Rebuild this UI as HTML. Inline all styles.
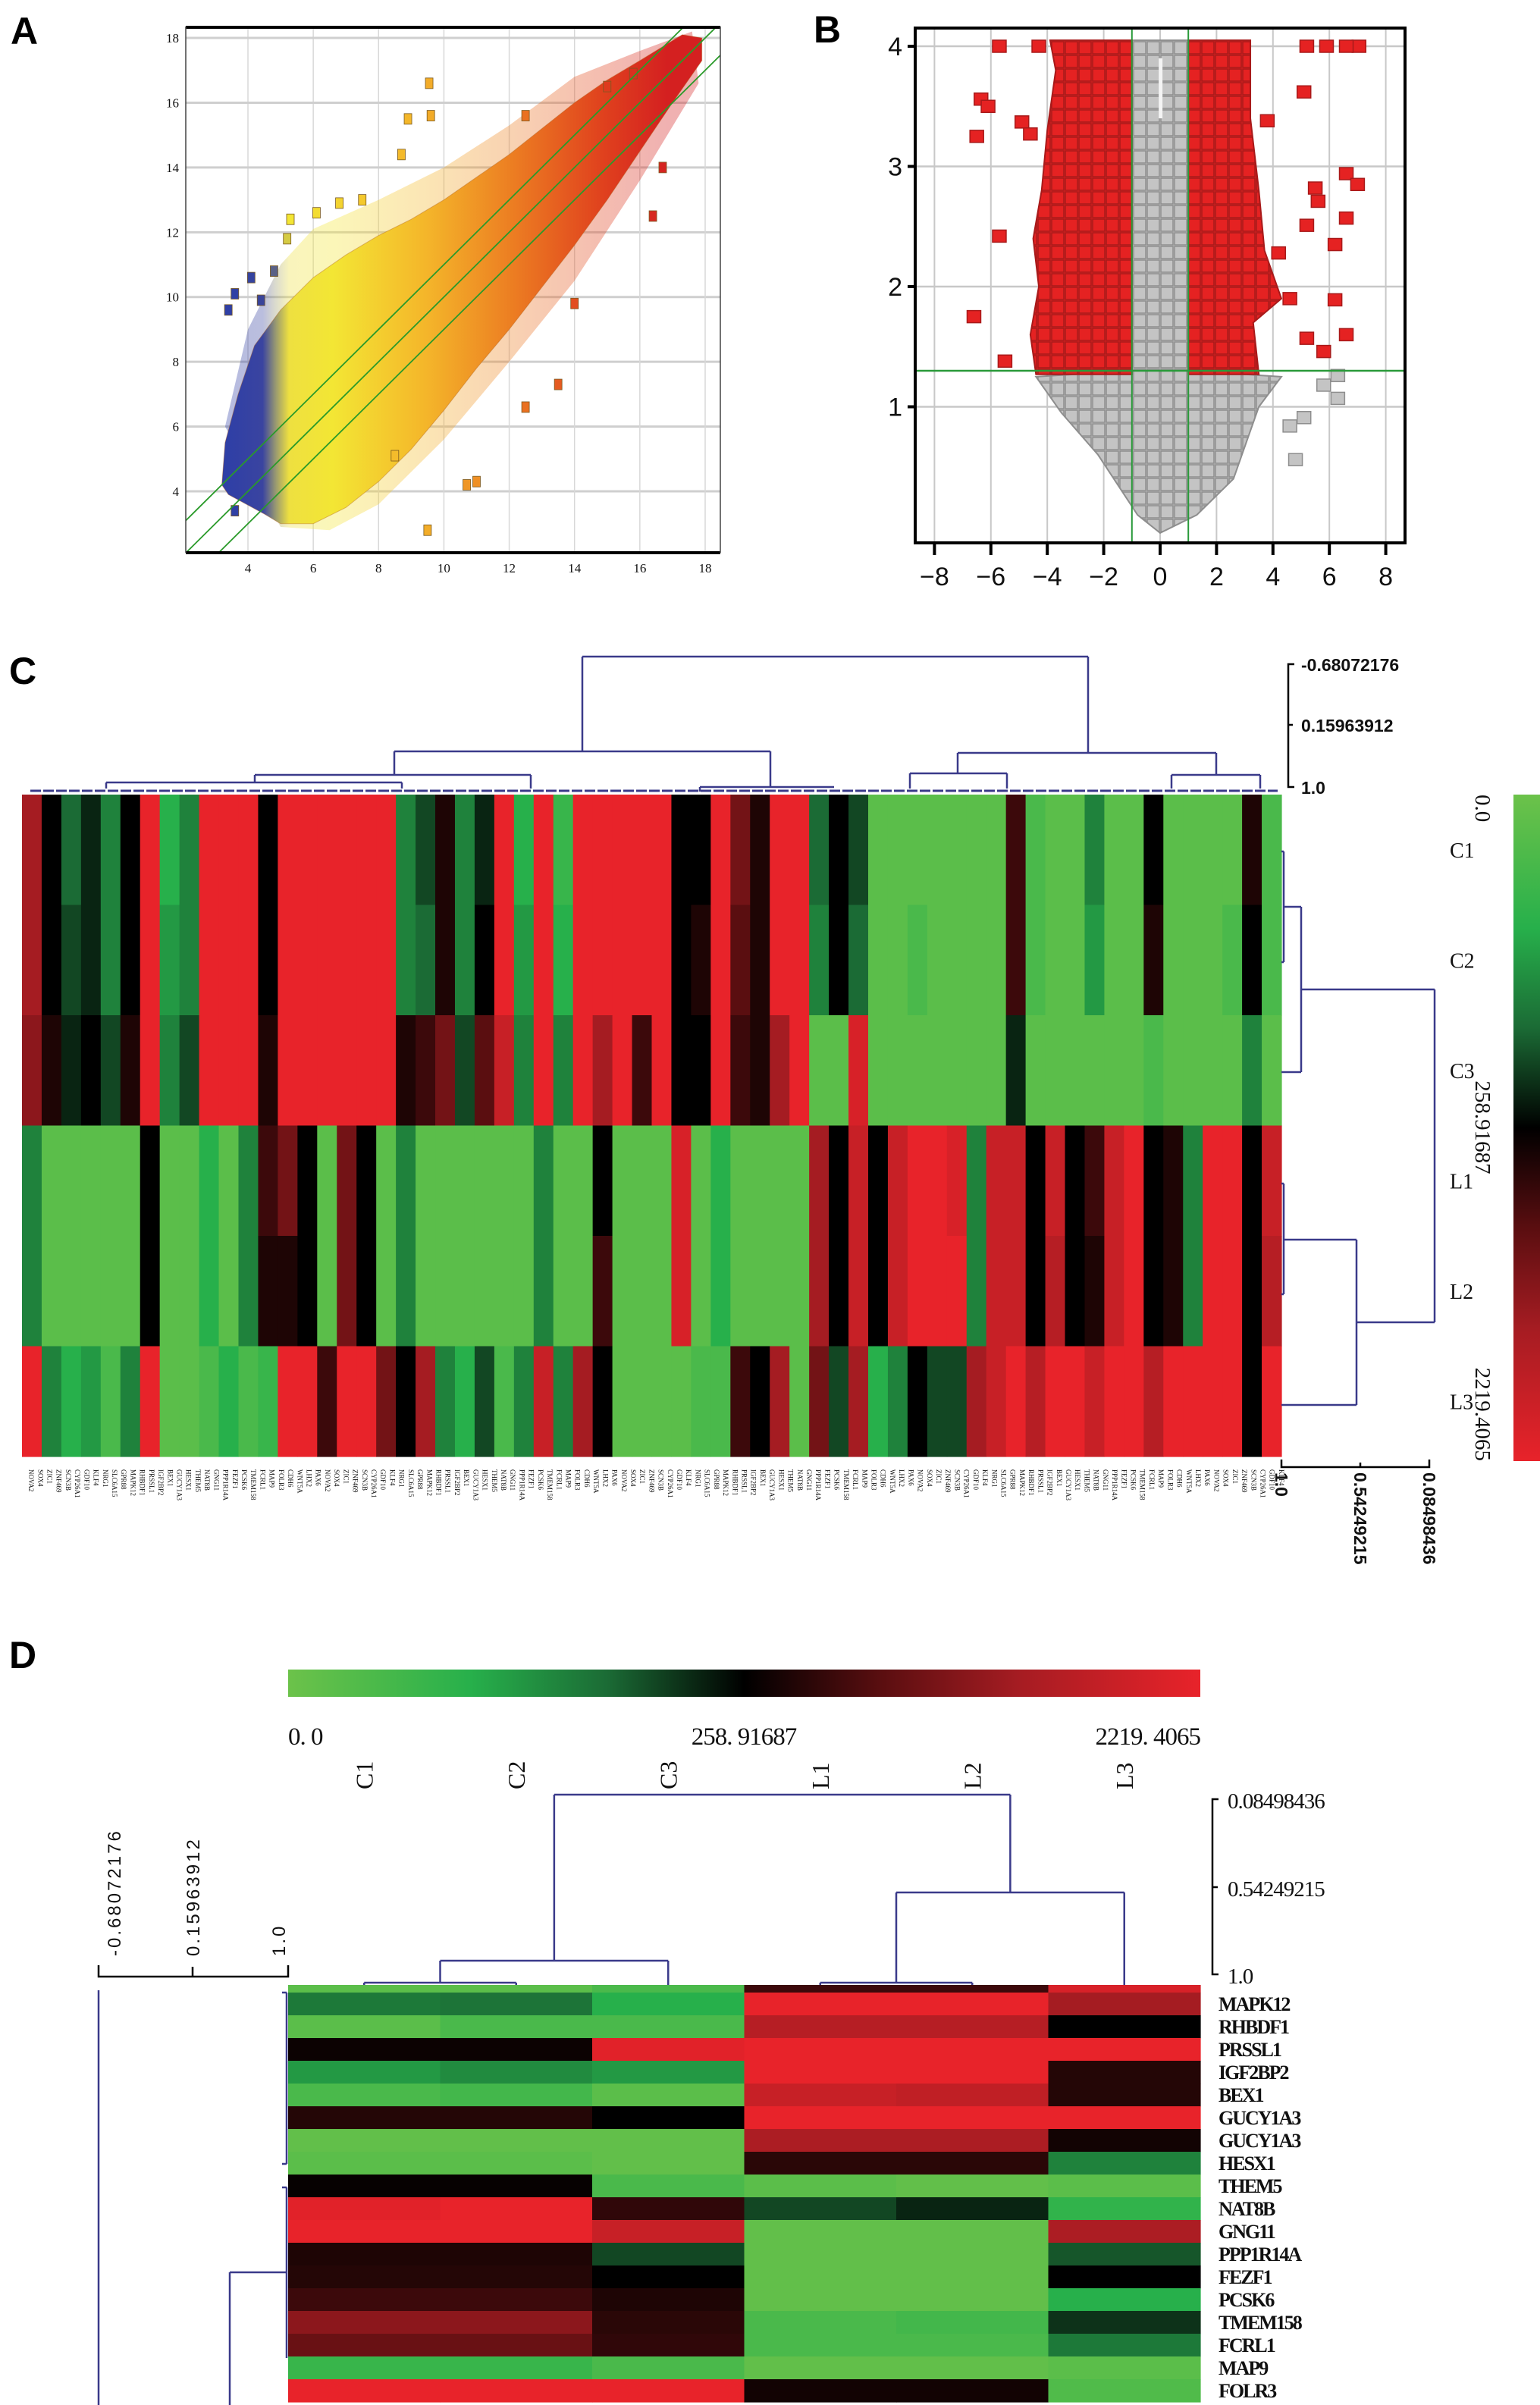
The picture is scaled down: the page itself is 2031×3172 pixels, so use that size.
<!DOCTYPE html>
<html><head><meta charset="utf-8">
<style>
html,body{margin:0;padding:0;background:#fff;}
svg{display:block;}
.lt{font-family:"Liberation Sans",sans-serif;font-weight:bold;fill:#000;}
.sr{font-family:"Liberation Serif","Noto Serif CJK SC",serif;fill:#111;}
.ss{font-family:"Liberation Sans",sans-serif;fill:#111;}
</style></head>
<body>
<svg id="fig" xmlns="http://www.w3.org/2000/svg" width="2031" height="3172" viewBox="0 0 2031 3172">
<defs>
<linearGradient id="gA" gradientUnits="userSpaceOnUse" x1="300" y1="0" x2="880" y2="0">
<stop offset="0" stop-color="#2f3fa6"/><stop offset="0.08" stop-color="#3a44a0"/><stop offset="0.11" stop-color="#9a9a70"/><stop offset="0.14" stop-color="#eee040"/><stop offset="0.24" stop-color="#f3e634"/><stop offset="0.45" stop-color="#f4b62a"/><stop offset="0.65" stop-color="#ec7d22"/><stop offset="0.85" stop-color="#e0421e"/><stop offset="1" stop-color="#d42020"/>
</linearGradient>
<pattern id="pR" width="18" height="18" patternUnits="userSpaceOnUse"><rect width="18" height="18" fill="#e52222"/><rect x="1" y="1" width="16" height="16" fill="none" stroke="#a81a1a" stroke-width="1.5"/></pattern>
<pattern id="pG" width="18" height="18" patternUnits="userSpaceOnUse"><rect width="18" height="18" fill="#c4c4c4"/><rect x="1" y="1" width="16" height="16" fill="none" stroke="#8e8e8e" stroke-width="1.5"/></pattern>
<linearGradient id="cbV" x1="0" y1="0" x2="0" y2="1">
<stop offset="0" stop-color="#6cc24a"/><stop offset="0.2" stop-color="#27b04b"/><stop offset="0.35" stop-color="#1b6b35"/><stop offset="0.5" stop-color="#000"/><stop offset="0.65" stop-color="#5a0e10"/><stop offset="0.8" stop-color="#a51c22"/><stop offset="1" stop-color="#e8232a"/>
</linearGradient>
<linearGradient id="cbH" x1="0" y1="0" x2="1" y2="0">
<stop offset="0" stop-color="#6cc24a"/><stop offset="0.2" stop-color="#27b04b"/><stop offset="0.35" stop-color="#1b6b35"/><stop offset="0.5" stop-color="#000"/><stop offset="0.65" stop-color="#5a0e10"/><stop offset="0.8" stop-color="#a51c22"/><stop offset="1" stop-color="#e8232a"/>
</linearGradient>
<clipPath id="clipA"><rect x="245" y="35" width="705" height="694"/></clipPath>
<clipPath id="clipB"><rect x="1205" y="35" width="650" height="683"/></clipPath>
</defs>
<text class="lt" x="14" y="58" font-size="50">A</text>
<text class="lt" x="1073" y="56" font-size="50">B</text>
<text class="lt" x="12" y="902" font-size="50">C</text>
<text class="lt" x="12" y="2200" font-size="50">D</text>
<g id="panelA"></g>
<g id="panelB"></g>
<g id="panelC"></g>
<g id="panelD"></g>
</svg>
<script>
// ---------- Panel A data ----------
const aTicks = [4,6,8,10,12,14,16,18];
const aCloudUpper = [[3.2,4.2],[3.3,5.5],[3.7,7],[4.2,8.5],[5,9.6],[6,10.6],[7,11.3],[8,11.9],[9,12.4],[10,13],[11,13.7],[12,14.4],[13,15.2],[14,16],[15,16.7],[16,17.3],[17.3,18.1],[17.9,18]];
const aCloudLower = [[17.9,17.3],[17,16],[16,14.5],[15,13],[14,11.6],[13,10.3],[12,9],[11,7.8],[10,6.5],[9,5.3],[8,4.3],[7,3.5],[6,3],[5,3],[4.5,3.3],[3.4,3.9]];
const aHaloUpper = [[3.3,6],[4,9],[5,11],[6,12.1],[8,13],[10,14],[12,15.3],[14,16.8],[16,17.6],[17.6,18.2]];
const aHaloLower = [[17.8,16.6],[16,13.6],[14,10.5],[12,8],[10,5.6],[8,3.6],[6.5,2.8],[5,2.9]];
const aOutX = [9.55,8.9,9.6,8.7,5.3,6.1,6.8,7.5,5.2,4.1,3.6,3.4,4.4,4.8,9.5,10.7,11,13.5,12.5,12.5,14,16.4,16.7,15.8,15,8.5,3.6];
const aOutY = [16.6,15.5,15.6,14.4,12.4,12.6,12.9,13.0,11.8,10.6,10.1,9.6,9.9,10.8,2.8,4.2,4.3,7.3,6.6,15.6,9.8,12.5,14,16.9,16.5,5.1,3.4];
// ---------- Panel B data ----------
const bXTicks = [-8,-6,-4,-2,0,2,4,6,8];
const bYTicks = [1,2,3,4];
const bGrayRegion = [[0,-0.05],[-0.8,0.1],[-2.2,0.6],[-3.5,0.95],[-4.4,1.25],[-1,1.3],[-1,4.05],[1,4.05],[1,1.3],[4.3,1.25],[3.5,1.0],[2.6,0.4],[1.3,0.1]];
const bRedLeft = [[-1,1.27],[-4.4,1.27],[-4.6,1.6],[-4.3,2.0],[-4.5,2.4],[-4.2,2.8],[-4,3.3],[-3.7,3.8],[-3.9,4.05],[-1,4.05]];
const bRedRight = [[1,1.27],[3.5,1.27],[3.3,1.7],[4.3,1.9],[3.7,2.3],[3.5,2.8],[3.2,3.4],[3.2,4.05],[1,4.05]];
const bRedX = [-5.7,-4.3,5.2,5.9,7.05,6.6,-6.35,-6.1,-6.5,-4.9,-4.6,5.1,3.8,6.6,7.0,5.5,5.6,6.6,5.2,-5.7,4.2,6.2,-6.6,6.6,5.2,5.8,-5.5,4.6,6.2];
const bRedY = [4.0,4.0,4.0,4.0,4.0,4.0,3.56,3.5,3.25,3.37,3.27,3.62,3.38,2.94,2.85,2.82,2.71,2.57,2.51,2.42,2.28,1.89,1.75,1.6,1.57,1.46,1.38,1.9,2.35];
const bGrayX = [6.3,6.3,4.6,4.8,5.1,5.8];
const bGrayY = [1.26,1.07,0.84,0.56,0.91,1.18];
// ---------- Panel C data ----------
const cRowLabels = ["C1","C2","C3","L1","L2","L3"];
const cC1 = [.8,.5,.35,.45,.3,.5,1,.2,.3,1,1,1,.5,1,1,1,1,1,1,.3,.4,.55,.3,.45,1,.2,1,.15,1,1,1,1,1,.5,.5,1,.7,.55,1,1,.35,.5,.4,.05,.05,.05,.05,.05,.05,.05,.6,.1,.05,.05,.3,.05,.05,.5,.05,.05,.05,.05,.55,.1];
const cC2 = [.8,.5,.4,.45,.3,.5,1,.25,.3,1,1,1,.5,1,1,1,1,1,1,.3,.35,.55,.3,.5,1,.25,1,.2,1,1,1,1,1,.5,.55,1,.65,.55,1,1,.3,.5,.35,.05,.05,.1,.05,.05,.05,.05,.6,.1,.05,.05,.25,.05,.05,.55,.05,.05,.05,.1,.5,.1];
const cC3 = [.75,.55,.45,.5,.4,.55,1,.3,.4,1,1,1,.55,1,1,1,1,1,1,.55,.6,.7,.4,.65,.9,.3,1,.3,1,.8,1,.6,1,.5,.5,1,.6,.55,.8,1,.05,.05,.95,.05,.05,.05,.05,.05,.05,.05,.45,.05,.05,.05,.05,.05,.05,.1,.05,.05,.05,.05,.3,.05];
const cL1 = [.3,.05,.05,.05,.05,.05,.5,.05,.05,.2,.05,.3,.6,.7,.5,.05,.7,.5,.05,.3,.05,.05,.05,.05,.05,.05,.3,.05,.05,.5,.05,.05,.05,.95,.05,.2,.05,.05,.05,.05,.8,.5,.9,.5,.9,1,1,.95,.3,.9,.9,.5,.9,.5,.6,.9,1,.5,.55,.3,1,1,.5,.9];
const cL2 = [.3,.05,.05,.05,.05,.05,.5,.05,.05,.2,.05,.3,.55,.55,.5,.05,.7,.5,.05,.3,.05,.05,.05,.05,.05,.05,.3,.05,.05,.6,.05,.05,.05,.95,.05,.2,.05,.05,.05,.05,.8,.5,.9,.5,.9,1,1,1,.3,.9,.9,.5,.85,.5,.55,.9,1,.5,.55,.3,1,1,.5,.85];
const cL3 = [1,.3,.2,.25,.1,.3,1,.05,.05,.1,.2,.1,.15,1,1,.6,1,1,.7,.5,.8,.3,.2,.4,.1,.3,.9,.3,.8,.5,.05,.05,.05,.05,.1,.1,.6,.5,.8,.05,.7,.4,.8,.2,.3,.5,.4,.4,.8,.9,1,.85,1,1,.9,1,1,.85,1,1,1,1,.5,1];
const cGeneNames = ["NOVA2","SOX4","ZIC1","ZNF469","SCN3B","CYP26A1","GDF10","KLF4","NRG1","SLC6A15","GPR88","MAPK12","RHBDF1","PRSSL1","IGF2BP2","BEX1","GUCY1A3","HESX1","THEM5","NAT8B","GNG11","PPP1R14A","FEZF1","PCSK6","TMEM158","FCRL1","MAP9","FOLR3","CDH6","WNT5A","LHX2","PAX6"];
const cScaleLabels = ["-0.68072176","0.15963912","1.0"];
const cBottomScaleLabels = ["1.0","0.54249215","0.08498436"];
const cbLabels = ["0.0","258.91687","2219.4065"];
// ---------- Panel D data ----------
const dCols = ["C1","C2","C3","L1","L2","L3"];
const dGenes = ["","MAPK12","RHBDF1","PRSSL1","IGF2BP2","BEX1","GUCY1A3","GUCY1A3","HESX1","THEM5","NAT8B","GNG11","PPP1R14A","FEZF1","PCSK6","TMEM158","FCRL1","MAP9","FOLR3"];
const dC1 = [.05,.32,.05,.52,.25,.1,.56,.03,.05,.51,.98,1,.55,.56,.6,.75,.68,.15,1];
const dC2 = [.05,.33,.1,.52,.28,.12,.56,.03,.05,.51,1,1,.55,.56,.6,.75,.68,.15,1];
const dC3 = [.1,.2,.1,.98,.25,.05,.5,.03,.03,.1,.58,.9,.4,.5,.55,.57,.58,.1,1];
const dL1 = [.6,1,.85,1,1,.9,1,.82,.57,.05,.4,.03,.03,.03,.03,.1,.1,.03,.53];
const dL2 = [.6,1,.85,1,1,.88,1,.82,.57,.03,.45,.03,.03,.03,.03,.12,.1,.03,.53];
const dL3 = [.95,.8,.5,1,.56,.56,1,.53,.3,.05,.17,.82,.38,.5,.2,.43,.32,.05,.08];
const dScaleTop = ["0.08498436","0.54249215","1.0"];
const dScaleLeft = ["-0.68072176","0.15963912","1.0"];

const NS = "http://www.w3.org/2000/svg";
function mk(parent, tag, attrs, txt){
  const e = document.createElementNS(NS, tag);
  for (const k in attrs) e.setAttribute(k, attrs[k]);
  if (txt !== undefined) e.textContent = txt;
  parent.appendChild(e);
  return e;
}
const stops = [[0,[108,194,74]],[0.2,[39,176,75]],[0.35,[27,107,53]],[0.5,[0,0,0]],[0.65,[90,14,16]],[0.8,[165,28,34]],[1,[232,35,42]]];
function cmap(v){
  v = Math.max(0, Math.min(1, v));
  for (let i=1;i<stops.length;i++){
    if (v <= stops[i][0]){
      const a=stops[i-1], b=stops[i], t=(v-a[0])/(b[0]-a[0]);
      const c=a[1].map((x,j)=>Math.round(x+(b[1][j]-x)*t));
      return "rgb("+c.join(",")+")";
    }
  }
  return "rgb(232,35,42)";
}

// ================= Panel A =================
(function(){
  const g = document.getElementById("panelA");
  const ax = v => 327 + (v-4)*43.07;
  const ay = v => 648 - (v-4)*42.71;
  const clip = mk(g,"g",{"clip-path":"url(#clipA)"});
  
  
  aTicks.forEach(t=>{
    const h = mk(clip,"line",{x1:245,x2:950,y1:ay(t),y2:ay(t),stroke:"#cfcfcf","stroke-width":3});
    
    
    const v = mk(clip,"line",{x1:ax(t),x2:ax(t),y1:35,y2:729,stroke:"#d8d8d8","stroke-width":1.5});
    
    
  });
  const hpts = aHaloUpper.concat(aHaloLower).map(p=>ax(p[0])+","+ay(p[1])).join(" ");
  const halo = mk(clip,"polygon",{points:hpts,fill:"url(#gA)","fill-opacity":0.35});
  
  
  const pts = aCloudUpper.concat(aCloudLower).map(p=>ax(p[0])+","+ay(p[1])).join(" ");
  const cloud = mk(clip,"polygon",{points:pts,fill:"url(#gA)",stroke:"#b0601a","stroke-width":1,"stroke-opacity":0.4});
  
  
  const grad = [[3.5,[47,63,166]],[4.7,[60,70,150]],[5.3,[243,230,52]],[9,[244,182,42]],[12,[236,125,34]],[14.5,[224,66,30]],[17,[212,32,32]]];
  function acol(x){
    if (x<=grad[0][0]) return "rgb("+grad[0][1]+")";
    for (let i=1;i<grad.length;i++) if (x<=grad[i][0]){
      const a=grad[i-1],b=grad[i],t=(x-a[0])/(b[0]-a[0]);
      return "rgb("+a[1].map((c,j)=>Math.round(c+(b[1][j]-c)*t)).join(",")+")";
    }
    return "rgb(212,32,32)";
  }
  aOutX.forEach((x,i)=>{
    const r = mk(clip,"rect",{x:ax(x)-5,y:ay(aOutY[i])-7,width:10,height:14,fill:acol(x),stroke:"#7a5a20","stroke-width":0.8});
    
    
  });
  [-1,0,1].forEach(o=>{
    const l = mk(clip,"line",{x1:ax(1),y1:ay(1+o),x2:ax(20),y2:ay(20+o),stroke:"#2a9a2a","stroke-width":1.8});
    
    
  });
  const ft = mk(g,"line",{x1:245,x2:950,y1:36,y2:36,stroke:"#000","stroke-width":4});
   
  const fb = mk(g,"line",{x1:245,x2:950,y1:729,y2:729,stroke:"#000","stroke-width":4});
   
  const fl = mk(g,"line",{x1:245,x2:245,y1:35,y2:729,stroke:"#444","stroke-width":1.5});
   
  const fr = mk(g,"line",{x1:950,x2:950,y1:35,y2:729,stroke:"#444","stroke-width":1.5});
   
  aTicks.forEach(t=>{
    const tx = mk(g,"text",{x:ax(t),y:755,"font-size":17,"text-anchor":"middle",class:"sr",fill:"#444"},String(t));
    
    
    const ty = mk(g,"text",{x:236,y:ay(t)+6,"font-size":17,"text-anchor":"end",class:"sr",fill:"#444"},String(t));
    
    
  });
})();

// ================= Panel B =================
(function(){
  const g = document.getElementById("panelB");
  const bx = v => 1530 + v*37.2;
  const by = v => 695 - v*158.5;
  const clip = mk(g,"g",{"clip-path":"url(#clipB)"});
  
  
  bXTicks.forEach(t=>{
    const l = mk(clip,"line",{x1:bx(t),x2:bx(t),y1:35,y2:718,stroke:"#c8c8c8","stroke-width":2});
    
    
  });
  bYTicks.forEach(t=>{
    const l = mk(clip,"line",{x1:1205,x2:1855,y1:by(t),y2:by(t),stroke:"#c8c8c8","stroke-width":2.5});
    
    
  });
  const poly = arr => arr.map(p=>bx(p[0])+","+by(p[1])).join(" ");
  const gr = mk(clip,"polygon",{points:poly(bGrayRegion),fill:"url(#pG)",stroke:"#8e8e8e","stroke-width":2});
  
  
  const rl = mk(clip,"polygon",{points:poly(bRedLeft),fill:"url(#pR)",stroke:"#a81a1a","stroke-width":2});
  
  
  const rr = mk(clip,"polygon",{points:poly(bRedRight),fill:"url(#pR)",stroke:"#a81a1a","stroke-width":2});
  
  
  const gap = mk(clip,"rect",{x:bx(-0.05),y:by(3.9),width:5,height:by(3.4)-by(3.9),fill:"#f4f4f4"});
  
  
  bRedX.forEach((x,i)=>{
    const r = mk(clip,"rect",{x:bx(x)-9,y:by(bRedY[i])-8,width:18,height:16,fill:"#e52222",stroke:"#a81a1a","stroke-width":1.5});
    
    
  });
  bGrayX.forEach((x,i)=>{
    const r = mk(clip,"rect",{x:bx(x)-9,y:by(bGrayY[i])-8,width:18,height:16,fill:"#c4c4c4",stroke:"#8e8e8e","stroke-width":1.5});
    
    
  });
  [-1,1].forEach(v=>{
    const l = mk(clip,"line",{x1:bx(v),x2:bx(v),y1:35,y2:718,stroke:"#2a9a3a","stroke-width":2});
    
    
  });
  const hl = mk(clip,"line",{x1:1205,x2:1855,y1:by(1.3),y2:by(1.3),stroke:"#2a9a3a","stroke-width":2.5});
  
  
  const fr = mk(g,"rect",{x:1207,y:37,width:646,height:679,fill:"none",stroke:"#000","stroke-width":4});
  
  
  bXTicks.forEach(t=>{
    const tk = mk(g,"line",{x1:bx(t),x2:bx(t),y1:718,y2:732,stroke:"#000","stroke-width":4});
    
    
    const tx = mk(g,"text",{x:bx(t),y:772,"font-size":34,"text-anchor":"middle",class:"ss"},String(t).replace("-","\u2212"));
    
    
  });
  bYTicks.forEach(t=>{
    const tk = mk(g,"line",{x1:1197,x2:1207,y1:by(t),y2:by(t),stroke:"#000","stroke-width":4});
    
    
    const tx = mk(g,"text",{x:1190,y:by(t)+12,"font-size":34,"text-anchor":"end",class:"ss"},String(t));
    
    
  });
})();

// ================= Panel C =================
(function(){
  const g = document.getElementById("panelC");
  const rows = [cC1,cC2,cC3,cL1,cL2,cL3];
  const x0=29, x1=1690, y0=1048, y1=1921;
  const n = cC1.length, cw=(x1-x0)/n, rh=(y1-y0)/rows.length;
  rows.forEach((row,r)=>{
    row.forEach((v,i)=>{
      const c = mk(g,"rect",{x:x0+i*cw,y:y0+r*rh,width:cw+0.6,height:rh+0.6,fill:cmap(v)});
      
      
    });
    const lb = mk(g,"text",{x:1912,y:y0+r*rh+rh/2+10,"font-size":28,class:"sr"},cRowLabels[r]);
    
    
  });
  const nl = 136, lw=(x1-x0)/nl;
  for (let i=0;i<nl;i++){
    const t = mk(g,"text",{transform:"translate("+(x0+i*lw+lw/2+3)+",1938) rotate(90)","font-size":9,class:"sr",fill:"#999"},cGeneNames[i%cGeneNames.length]);
    
    
  }
  const dc = "#3a3a8a";
  const segs = [
    [768,866,1435,866],[768,866,768,991],[1435,866,1435,993],
    [520,991,1016,991],[520,991,520,1022],[1016,991,1016,1038],
    [1263,993,1604,993],[1263,993,1263,1020],[1604,993,1604,1022],
    [336,1022,700,1022],[336,1022,336,1032],[700,1022,700,1040],
    [140,1032,530,1032],[140,1032,140,1040],[530,1032,530,1040],
    [1200,1020,1328,1020],[1200,1020,1200,1040],[1328,1020,1328,1040],
    [1545,1022,1662,1022],[1545,1022,1545,1040],[1662,1022,1662,1040],
    [923,1038,1100,1038],[923,1038,923,1044]
  ];
  segs.forEach(s=>{
    const l = mk(g,"line",{x1:s[0],y1:s[1],x2:s[2],y2:s[3],stroke:dc,"stroke-width":2.5});
    
    
  });
  const fr = mk(g,"line",{x1:40,x2:1685,y1:1043,y2:1043,stroke:dc,"stroke-width":3,"stroke-dasharray":"14 3"});
  
  
  const rs = [
    [1693,1123,1693,1269],[1690,1123,1693,1123],[1690,1269,1693,1269],
    [1693,1196,1716,1196],[1716,1196,1716,1414],[1690,1414,1716,1414],
    [1716,1305,1892,1305],
    [1693,1561,1693,1707],[1690,1561,1693,1561],[1690,1707,1693,1707],
    [1693,1635,1789,1635],[1789,1635,1789,1853],[1690,1853,1789,1853],
    [1789,1744,1892,1744],[1892,1305,1892,1744]
  ];
  rs.forEach(s=>{
    const l = mk(g,"line",{x1:s[0],y1:s[1],x2:s[2],y2:s[3],stroke:dc,"stroke-width":2.5});
    
    
  });
  const sc = mk(g,"path",{d:"M1707,876 H1699 V1038 H1707 M1699,956 H1705",stroke:"#000","stroke-width":2.5,fill:"none"});
  
  
  [876,956,1038].forEach((y,i)=>{
    const t = mk(g,"text",{x:1716,y:y+9,"font-size":23,class:"ss","font-weight":"bold",fill:"#222"},cScaleLabels[i]);
    
    
  });
  const bs = mk(g,"path",{d:"M1690,1925 V1935 H1885 V1925 M1794,1935 V1929",stroke:"#000","stroke-width":2.5,fill:"none"});
  
  
  [1690,1794,1885].forEach((x,i)=>{
    const t = mk(g,"text",{transform:"translate("+(x-8)+",1942) rotate(90)","font-size":23,class:"ss","font-weight":"bold",fill:"#222"},cBottomScaleLabels[i]);
    
    
  });
  const cb = mk(g,"rect",{x:1996,y:1048,width:35,height:879,fill:"url(#cbV)"});
  
  
  [[1048,"start"],[1487,"middle"],[1927,"end"]].forEach((p,i)=>{
    const t = mk(g,"text",{transform:"translate(1946,"+p[0]+") rotate(90)","font-size":29,class:"sr","text-anchor":p[1]},cbLabels[i]);
    
    
  });
})();

// ================= Panel D =================
(function(){
  const g = document.getElementById("panelD");
  const cols = [dC1,dC2,dC3,dL1,dL2,dL3];
  const x0=380, cw=200.5;
  const rowY = i => i===0 ? 2618 : 2628 + (i-1)*30;
  const rowH = i => i===0 ? 10 : 30;
  cols.forEach((col,c)=>{
    col.forEach((v,i)=>{
      const r = mk(g,"rect",{x:x0+c*cw,y:rowY(i),width:cw+0.6,height:rowH(i)+0.6,fill:cmap(v)});
      
      
    });
    const t = mk(g,"text",{transform:"translate("+(x0+c*cw+cw/2+11)+",2360) rotate(-90)","font-size":32,class:"sr"},dCols[c]);
    
    
  });
  dGenes.forEach((name,i)=>{
    if (!name) return;
    const t = mk(g,"text",{x:1607,y:rowY(i)+24,"font-size":26,class:"sr","font-weight":"bold",style:"letter-spacing:-2px"},name);
    
    
  });
  const cb = mk(g,"rect",{x:380,y:2202,width:1203,height:36,fill:"url(#cbH)"});
  
  
  [[380,"start"],[981,"middle"],[1583,"end"]].forEach((p,i)=>{
    const t = mk(g,"text",{x:p[0],y:2301,"font-size":33,class:"sr","text-anchor":p[1],style:"letter-spacing:-1px"},cbLabels[i].replace(".",". "));
    
    
  });
  const dc="#3a3a8a";
  const cx = c => x0 + c*cw + cw/2;
  const s = [
    [cx(0),2615,cx(1),2615],[cx(0),2615,cx(0),2618],[cx(1),2615,cx(1),2618],
    [(cx(0)+cx(1))/2,2586,cx(2),2586],[(cx(0)+cx(1))/2,2586,(cx(0)+cx(1))/2,2615],[cx(2),2586,cx(2),2618],
    [cx(3),2615,cx(4),2615],[cx(3),2615,cx(3),2618],[cx(4),2615,cx(4),2618],
    [(cx(3)+cx(4))/2,2496,cx(5),2496],[(cx(3)+cx(4))/2,2496,(cx(3)+cx(4))/2,2615],[cx(5),2496,cx(5),2618],
    [((cx(0)+cx(1))/2+cx(2))/2,2367,((cx(3)+cx(4))/2+cx(5))/2,2367],
    [((cx(0)+cx(1))/2+cx(2))/2,2367,((cx(0)+cx(1))/2+cx(2))/2,2586],
    [((cx(3)+cx(4))/2+cx(5))/2,2367,((cx(3)+cx(4))/2+cx(5))/2,2496]
  ];
  s.forEach(q=>{
    const l = mk(g,"line",{x1:q[0],y1:q[1],x2:q[2],y2:q[3],stroke:dc,"stroke-width":2.5});
    
    
  });
  const sc = mk(g,"path",{d:"M1607,2373 H1599 V2604 H1607 M1599,2489 H1606",stroke:"#000","stroke-width":2.5,fill:"none"});
  
  
  [2373,2489,2604].forEach((y,i)=>{
    const t = mk(g,"text",{x:1619,y:y+12,"font-size":29,class:"sr",style:"letter-spacing:-1px"},dScaleTop[i]);
    
    
  });
  const ls = mk(g,"path",{d:"M130,2592 V2607 H380 V2592 M254,2607 V2594",stroke:"#000","stroke-width":2.5,fill:"none"});
  
  
  [150,254,367].forEach((x,i)=>{
    const t = mk(g,"text",{transform:"translate("+(x+9)+",2580) rotate(-90)","font-size":24,class:"ss",style:"letter-spacing:3px"},dScaleLeft[i]);
    
    
  });
  const ld = [
    [130,2625,130,3172],[303,2997,303,3172],[303,2997,378,2997],
    [378,2628,378,2854],[372,2628,378,2628],[372,2854,378,2854],
    [378,2885,378,3110],[372,2885,378,2885]
  ];
  ld.forEach(q=>{
    const l = mk(g,"line",{x1:q[0],y1:q[1],x2:q[2],y2:q[3],stroke:dc,"stroke-width":2.5});
    
    
  });
})();
</script>
</body></html>
